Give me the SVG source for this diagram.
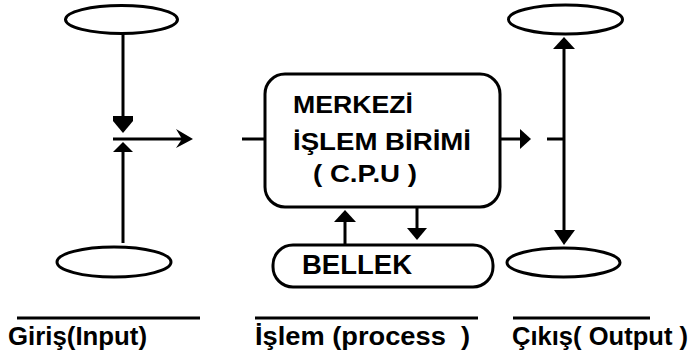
<svg xmlns="http://www.w3.org/2000/svg" width="690" height="358" viewBox="0 0 690 358">
<style>
.s{fill:none;stroke:#000;stroke-width:3}
.h{fill:#000;stroke:none}
.t{font-family:"Liberation Sans",Arial,sans-serif;font-weight:bold;fill:#000}
</style>
<rect width="690" height="358" fill="#fff"/>
<g id="input-top"><ellipse class="s" cx="121.5" cy="19.5" rx="56" ry="14"/></g>
<g id="input-bottom"><ellipse class="s" cx="114" cy="262" rx="57" ry="15"/></g>
<g id="output-top"><ellipse class="s" cx="565.5" cy="19.5" rx="57" ry="14.5"/></g>
<g id="output-bottom"><ellipse class="s" cx="563.5" cy="262.5" rx="56.5" ry="14.5"/></g>
<g id="cpu">
<rect class="s" x="265" y="74" width="235" height="133" rx="20"/>
<text class="t" x="293" y="113" font-size="23" textLength="120" lengthAdjust="spacingAndGlyphs">MERKEZİ</text>
<text class="t" x="293" y="150" font-size="23" textLength="178" lengthAdjust="spacingAndGlyphs">İŞLEM BİRİMİ</text>
<text class="t" x="313" y="182" font-size="23" textLength="104" lengthAdjust="spacingAndGlyphs" xml:space="preserve">( C.P.U )</text>
</g>
<g id="bellek">
<rect class="s" x="273" y="245" width="220" height="42" rx="20"/>
<text class="t" x="302" y="274" font-size="27" textLength="110" lengthAdjust="spacingAndGlyphs">BELLEK</text>
</g>
<g id="connectors">
<line class="s" x1="123" y1="34" x2="123" y2="118"/>
<polygon class="h" points="113,116 133,116 133,121 123,133 113,121"/>
<line class="s" x1="113" y1="139" x2="188" y2="139"/>
<polygon class="h" points="176,129 193,139 176,148 182,139"/>
<polygon class="h" points="113,152 133,152 123,142"/>
<line class="s" x1="123" y1="151" x2="123" y2="243"/>
<line class="s" x1="242" y1="139" x2="265" y2="139"/>
<line class="s" x1="500" y1="139" x2="522" y2="139"/>
<polygon class="h" points="520,129 531,139 520,149"/>
<line class="s" x1="547" y1="139" x2="564" y2="139"/>
<line class="s" x1="564" y1="48" x2="564" y2="231"/>
<polygon class="h" points="553,49 575,49 564,37"/>
<polygon class="h" points="554,230 575,230 564,245"/>
<line class="s" x1="345" y1="221" x2="345" y2="245"/>
<polygon class="h" points="334,222 356,222 345,210"/>
<line class="s" x1="417" y1="207" x2="417" y2="229"/>
<polygon class="h" points="407,228 427,228 417,240"/>
</g>
<g id="label-input">
<line class="s" x1="17" y1="318" x2="200" y2="318"/>
<text class="t" x="8" y="345" font-size="26" textLength="139" lengthAdjust="spacingAndGlyphs">Giriş(Input)</text>
</g>
<g id="label-process">
<line class="s" x1="255" y1="318" x2="478" y2="318"/>
<text class="t" x="255" y="345" font-size="26" textLength="215" lengthAdjust="spacingAndGlyphs" xml:space="preserve">İşlem (process  )</text>
</g>
<g id="label-output">
<line class="s" x1="513" y1="318" x2="650" y2="318"/>
<text class="t" x="512" y="345" font-size="26" textLength="176" lengthAdjust="spacingAndGlyphs" xml:space="preserve">Çıkış( Output )</text>
</g>
</svg>
